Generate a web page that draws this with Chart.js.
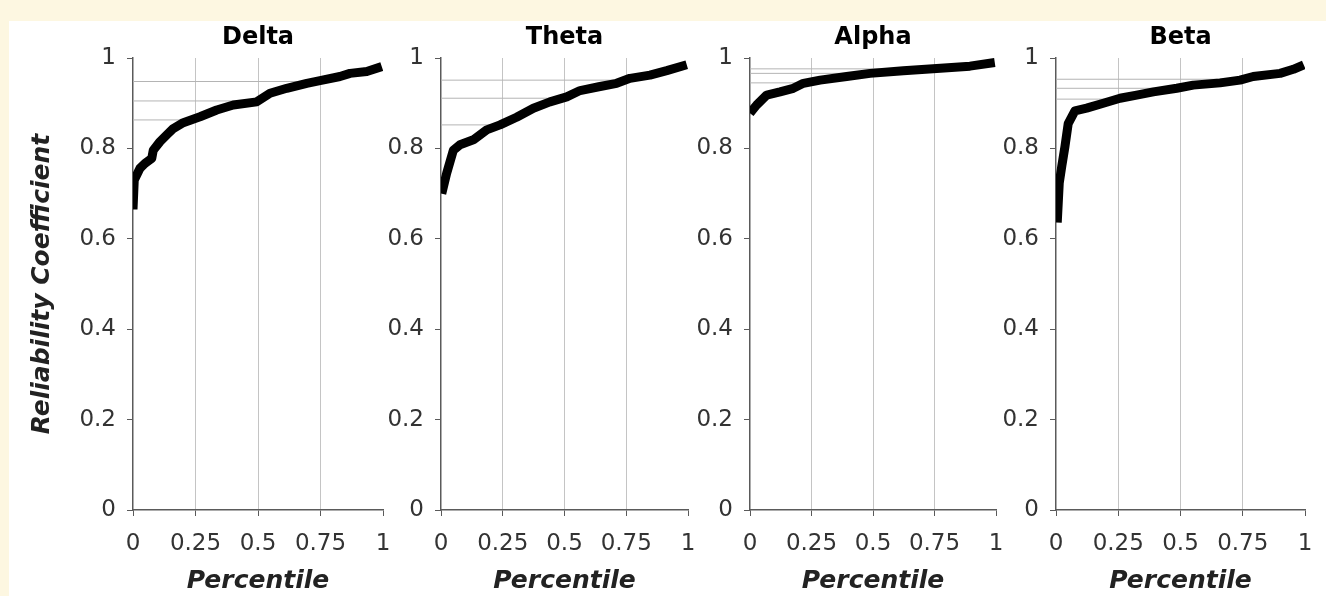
<!DOCTYPE html>
<html>
<head>
<meta charset="utf-8">
<script src="https://cdn.jsdelivr.net/npm/chart.js@4.4.1/dist/chart.umd.min.js"></script>
<style>
    html, body { margin: 0; padding: 0; }
    body { width: 1326px; height: 596px; background: #ffffff; position: relative; overflow: hidden; }
    .band-top { position: absolute; left: 0; top: 0; width: 1326px; height: 21px; background: #fdf7e1; }
    .band-left { position: absolute; left: 0; top: 0; width: 9px; height: 596px; background: #fdf7e1; }
    .panel { position: absolute; top: 0; height: 596px; }
</style>
</head>
<body>
<div class="band-top"></div>
<div class="band-left"></div>
<div class="panel" id="p0"><canvas id="c0"></canvas></div>
<div class="panel" id="p1"><canvas id="c1"></canvas></div>
<div class="panel" id="p2"><canvas id="c2"></canvas></div>
<div class="panel" id="p3"><canvas id="c3"></canvas></div>
<script>
// Dados
const bandNames = ['Delta', 'Theta', 'Alpha', 'Beta'];
const xTicks = [0, 0.25, 0.5, 0.75, 1];
const yTicks = [0, 0.2, 0.4, 0.6, 0.8, 1];
const quartilePct = [0.25, 0.5, 0.75];

const deltaPct = [0, 0.005, 0.028, 0.048, 0.075, 0.081, 0.108, 0.135, 0.161, 0.201, 0.268, 0.335, 0.401, 0.495, 0.548, 0.615, 0.695, 0.748, 0.828, 0.868, 0.935, 0.995];
const deltaVal = [0.665, 0.73, 0.756, 0.767, 0.778, 0.796, 0.815, 0.83, 0.844, 0.857, 0.87, 0.885, 0.896, 0.903, 0.922, 0.933, 0.944, 0.95, 0.959, 0.966, 0.97, 0.981];
const deltaQuart = [0.863, 0.905, 0.948];

const thetaPct = [0.003, 0.023, 0.05, 0.077, 0.131, 0.185, 0.239, 0.306, 0.374, 0.441, 0.509, 0.563, 0.644, 0.711, 0.765, 0.846, 0.914, 0.995];
const thetaVal = [0.7, 0.745, 0.796, 0.808, 0.819, 0.841, 0.852, 0.869, 0.889, 0.903, 0.914, 0.928, 0.937, 0.944, 0.955, 0.962, 0.972, 0.985];
const thetaQuart = [0.852, 0.911, 0.951];

const alphaPct = [0, 0.027, 0.068, 0.122, 0.176, 0.217, 0.285, 0.393, 0.488, 0.623, 0.759, 0.894, 0.995];
const alphaVal = [0.878, 0.896, 0.918, 0.925, 0.933, 0.944, 0.951, 0.959, 0.966, 0.972, 0.977, 0.982, 0.99];
const alphaQuart = [0.945, 0.966, 0.976];

const betaPct = [0.005, 0.013, 0.023, 0.036, 0.049, 0.076, 0.123, 0.19, 0.257, 0.324, 0.391, 0.485, 0.551, 0.659, 0.739, 0.792, 0.9, 0.953, 0.995];
const betaVal = [0.636, 0.723, 0.76, 0.804, 0.855, 0.883, 0.889, 0.9, 0.911, 0.918, 0.925, 0.933, 0.94, 0.945, 0.951, 0.959, 0.966, 0.975, 0.985];
const betaQuart = [0.909, 0.933, 0.953];

const panelPct = [deltaPct, thetaPct, alphaPct, betaPct];
const panelVal = [deltaVal, thetaVal, alphaVal, betaVal];
const panelQuart = [deltaQuart, thetaQuart, alphaQuart, betaQuart];

// posição das áreas de plotagem (px)
const plotLeft = [133, 441, 750, 1056];
const plotRight = [383, 688, 996, 1305];
const PLOT_TOP = 58;
const PLOT_BOTTOM = 510;
const H = 596;
const RIGHT_PAD = 26;

const FONT = '"DejaVu Sans", "Liberation Sans", Arial, sans-serif';
const AXIS_COLOR = '#5a5a5a';
const TICK_TEXT = '#333333';

const fmt = (v) => String(Number(Number(v).toFixed(2)));

function makePanel(i) {
    const yWidth = i === 0 ? plotLeft[0] - 9 : 56;
    const canvasLeft = plotLeft[i] - yWidth;
    const canvasWidth = yWidth + (plotRight[i] - plotLeft[i]) + RIGHT_PAD;

    const holder = document.getElementById('p' + i);
    holder.style.left = canvasLeft + 'px';
    holder.style.width = canvasWidth + 'px';

    const titleSize = 24;
    const titleLH = titleSize * 1.2;
    const titlePadTop = 38 - titleLH / 2;
    const titlePadBottom = PLOT_TOP - titlePadTop - titleLH;

    const quartileSets = panelQuart[i].map((q, k) => ({
        type: 'line',
        data: [{ x: 0, y: q }, { x: quartilePct[k], y: q }],
        borderColor: '#b4b4b4',
        borderWidth: 1,
        pointRadius: 0,
        order: 2
    }));

    const curve = {
        type: 'line',
        data: panelPct[i].map((p, k) => ({ x: p, y: panelVal[i][k] })),
        borderColor: '#000000',
        borderWidth: 9,
        borderJoinStyle: 'round',
        borderCapStyle: 'butt',
        pointRadius: 0,
        tension: 0,
        order: 1
    };

    new Chart(document.getElementById('c' + i), {
        type: 'scatter',
        data: { datasets: [...quartileSets, curve] },
        options: {
            responsive: true,
            maintainAspectRatio: false,
            animation: false,
            events: [],
            layout: { padding: { left: 0, right: RIGHT_PAD, top: 0, bottom: 0 } },
            plugins: {
                legend: { display: false },
                tooltip: { enabled: false },
                title: {
                    display: true,
                    text: bandNames[i],
                    fullSize: false,
                    color: '#000000',
                    font: { family: FONT, size: titleSize, weight: 'bold', lineHeight: 1.2 },
                    padding: { top: titlePadTop, bottom: titlePadBottom }
                }
            },
            scales: {
                x: {
                    type: 'linear',
                    min: 0,
                    max: 1,
                    afterBuildTicks: (scale) => { scale.ticks = xTicks.map(v => ({ value: v })); },
                    afterFit: (scale) => { scale.height = H - PLOT_BOTTOM; },
                    ticks: {
                        color: TICK_TEXT,
                        font: { family: FONT, size: 23 },
                        padding: 14,
                        maxRotation: 0,
                        autoSkip: false,
                        callback: fmt
                    },
                    grid: {
                        color: (ctx) => (ctx.tick && (ctx.tick.value === 0 || ctx.tick.value === 1)) ? 'rgba(0,0,0,0)' : '#c4c4c4',
                        tickColor: AXIS_COLOR,
                        tickLength: 6,
                        lineWidth: 1
                    },
                    border: { color: AXIS_COLOR, width: 1.5 },
                    title: {
                        display: true,
                        text: 'Percentile',
                        color: '#222222',
                        font: { family: FONT, size: 25, weight: 'bold', style: 'italic', lineHeight: 1.2 },
                        padding: { top: 0, bottom: 0 }
                    }
                },
                y: {
                    min: 0,
                    max: 1,
                    afterBuildTicks: (scale) => { scale.ticks = yTicks.map(v => ({ value: v })); },
                    afterFit: (scale) => { scale.width = yWidth; },
                    ticks: {
                        color: TICK_TEXT,
                        font: { family: FONT, size: 23 },
                        padding: 11,
                        autoSkip: false,
                        callback: fmt
                    },
                    grid: {
                        drawOnChartArea: false,
                        tickColor: AXIS_COLOR,
                        tickLength: 6
                    },
                    border: { color: AXIS_COLOR, width: 1.5 },
                    title: {
                        display: i === 0,
                        text: 'Reliability Coefficient',
                        color: '#222222',
                        font: { family: FONT, size: 25, weight: 'bold', style: 'italic', lineHeight: 1.2 },
                        padding: { top: 18, bottom: 0 }
                    }
                }
            }
        }
    });
}

for (let i = 0; i < bandNames.length; i++) {
    makePanel(i);
}
</script>
</body>
</html>
